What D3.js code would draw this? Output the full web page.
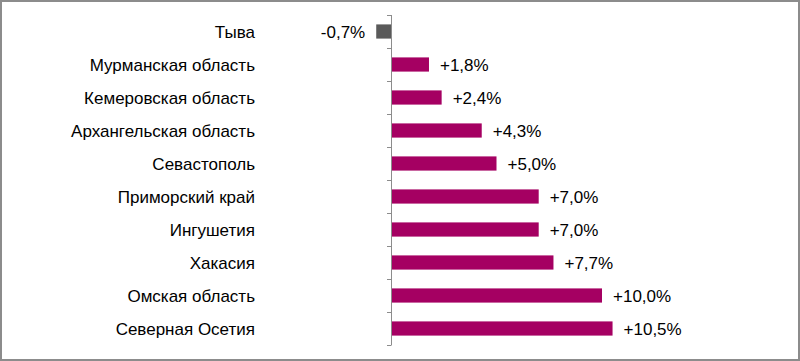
<!DOCTYPE html>
<html><head><meta charset="utf-8">
<script src="https://cdn.jsdelivr.net/npm/d3@7"></script>
<style>
html,body{margin:0;padding:0;background:#fff;}
svg{display:block;}
</style>
</head><body>
<svg id="chart" width="800" height="361"></svg>
<script>
const categories = ["Тыва","Мурманская область","Кемеровская область","Архангельская область","Севастополь","Приморский край","Ингушетия","Хакасия","Омская область","Северная Осетия"];
const values = [-0.7, 1.8, 2.4, 4.3, 5.0, 7.0, 7.0, 7.7, 10.0, 10.5];
const valueLabels = ["-0,7%","+1,8%","+2,4%","+4,3%","+5,0%","+7,0%","+7,0%","+7,7%","+10,0%","+10,5%"];

const svg = d3.select("#chart");
const W = 800, H = 361;
svg.append("rect").attr("x",1).attr("y",1).attr("width",W-2).attr("height",H-2)
  .attr("fill","#fff").attr("stroke","#8c8c8c").attr("stroke-width",2);

const x0 = 391;
const pxPerUnit = 21.1;
const x = d3.scaleLinear().domain([0, 10.5]).range([x0, x0 + 10.5*pxPerUnit]);
const y = d3.scaleBand().domain(categories).range([15, 345]).paddingInner(0.57).paddingOuter(0.285);

const g = svg.append("g");
g.selectAll("rect.bar").data(values).join("rect")
  .attr("class","bar")
  .attr("x", d => Math.min(x(0), x(d)))
  .attr("width", d => Math.abs(x(d)-x(0)))
  .attr("y", (d,i) => y(categories[i]))
  .attr("height", y.bandwidth())
  .attr("fill", d => d < 0 ? "#5a5a5a" : "#a50062");

// axis
const axisG = svg.append("g").attr("stroke","#8c8c8c").attr("stroke-width",1);
axisG.append("line").attr("x1",x0+0.5).attr("x2",x0+0.5).attr("y1",15).attr("y2",345);
const step = y.step();
const boundaries = d3.range(categories.length+1).map(i => 15 + i*step);
axisG.selectAll("line.tick").data(boundaries).join("line")
  .attr("class","tick").attr("x1",x0-4).attr("x2",x0+0.5)
  .attr("y1",d=>Math.round(d)+0.5).attr("y2",d=>Math.round(d)+0.5);

// category labels
svg.selectAll("text.cat").data(categories).join("text")
  .attr("class","cat")
  .attr("x", 255)
  .attr("y", d => y(d) + y.bandwidth()/2 + 0.5)
  .attr("dy","0.35em")
  .attr("text-anchor","end")
  .attr("font-family","Liberation Sans, Arial, sans-serif")
  .attr("font-size",17)
  .attr("fill","#000")
  .text(d => d);

// value labels
svg.selectAll("text.val").data(values).join("text")
  .attr("class","val")
  .attr("x", d => d < 0 ? x(d) - 11 : x(d) + 11)
  .attr("y", (d,i) => y(categories[i]) + y.bandwidth()/2 + 0.5)
  .attr("dy","0.35em")
  .attr("text-anchor", d => d < 0 ? "end" : "start")
  .attr("font-family","Liberation Sans, Arial, sans-serif")
  .attr("font-size",17)
  .attr("fill","#000")
  .text((d,i) => valueLabels[i]);
</script>
</body></html>
